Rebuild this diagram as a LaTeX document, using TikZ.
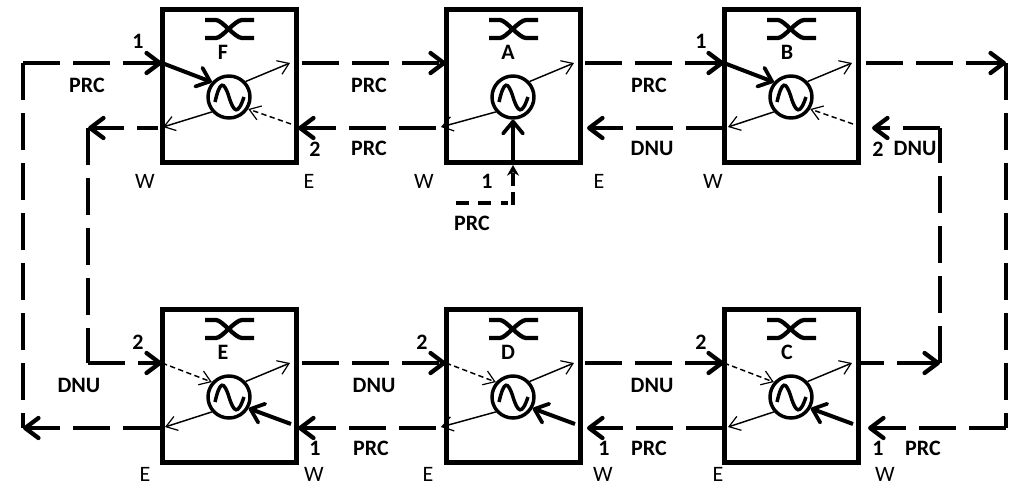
\documentclass[tikz,border=0pt]{standalone}
\usepackage{fontspec}
\setmainfont{Carlito}
\usetikzlibrary{arrows.meta}
\tikzset{
  netbox/.style={draw,line width=3.75pt,minimum width=100.5pt,minimum height=114.75pt,inner sep=0pt},
  clockcirc/.style={draw,circle,line width=2.6pt,minimum size=31.5pt,inner sep=0pt},
  txt/.style={inner sep=0.75pt,font=\fontsize{16.5pt}{18pt}\selectfont},
  btxt/.style={inner sep=0.75pt,font=\fontsize{16.5pt}{18pt}\selectfont\bfseries},
  plainlink/.style={line width=3.4pt,dash pattern=on 27.75pt off 9.75pt},
  link/.style={plainlink,-{Straight Barb[length=10pt,width=15pt,line width=3.2pt,round]}},
  thinarrow/.style={line width=1.1pt,-{Straight Barb[length=8pt,width=11pt,line width=0.9pt]}},
  thinback/.style={thinarrow,dash pattern=on 4pt off 2.5pt},
  thickarrow/.style={line width=3pt,-{Straight Barb[length=9pt,width=15pt,line width=2.8pt,round]}},
  coupler/.style={line width=3.2pt},
}
\begin{document}
\begin{tikzpicture}[x=0.75pt,y=0.75pt,yscale=-1,xscale=1]
\useasboundingbox (0,0) rectangle (1022,487);
% boxes
\foreach \nm/\cx/\cy/\lx/\tx/\ex/\wx in {F/229/86/223/69/73/158,A/513/86/508/74/72/436,B/791/86/787/81/75/723,E/229/386/223/69/73/160,D/513/386/508/74/72/436,C/791/386/787/77/70/723}{
  \node[netbox] (\nm) at (\cx,\cy) {};
  \node[clockcirc] (\nm-clk) at (\cx,\cy+11) {};
  \draw[shift={(\cx,\cy+11)},line width=2.6pt] (-14,5) .. controls (-9,-17) and (-5,-16) .. (0,0) .. controls (5,16) and (9,18) .. (15,0);
  \draw[coupler] (\cx-24,\cy-66) -- (\cx-13,\cy-66) .. controls (\cx-7,\cy-66) and (\cx+6,\cy-48) .. (\cx+13,\cy-48) -- (\cx+25,\cy-48);
  \draw[coupler] (\cx-24,\cy-48) -- (\cx-13,\cy-48) .. controls (\cx-7,\cy-48) and (\cx+6,\cy-66) .. (\cx+13,\cy-66) -- (\cx+25,\cy-66);
  \node[btxt] (\nm-lbl) at (\lx,\cy-34) {\nm};
  \coordinate (\nm-ne) at (\cx+61,\cy-23);
  \coordinate (\nm-nw) at (\cx-67,\cy-23);
  \coordinate (\nm-sw) at (\wx+5,\cy+41);
  \coordinate (\nm-se) at (\cx+62,\cy+38);
  \coordinate (\nm-out) at (\cx+\ex,\cy-23);
  \coordinate (\nm-back) at (\wx,\cy+42);
  \coordinate (\nm-tip) at (\cx+\tx,\cy+42);
  \draw[thinarrow] (\nm-clk.43) -- (\nm-ne);
  \draw[thinarrow] (\nm-clk.221) -- (\nm-sw);
}
% inputs inside the boxes
\draw[thickarrow] (F-nw) -- (F-clk.139);
\draw[thickarrow] (B-nw) -- (B-clk.139);
\draw[thinback] (F-se) -- (F-clk.-32);
\draw[thinback] (B-se) -- (B-clk.-32);
\draw[thinback] (E-nw) -- (E-clk.139);
\draw[thinback] (D-nw) -- (D-clk.139);
\draw[thinback] (C-nw) -- (C-clk.139);
\draw[thickarrow] (E-se) -- (E-clk.-30);
\draw[thickarrow] (D-se) -- (D-clk.-30);
\draw[thickarrow] (C-se) -- (C-clk.-30);
\draw[thickarrow] (A.south -| A-clk) -- (A-clk.south);
% corners of the rings
\coordinate (outTL) at (23,63);
\coordinate (outTR) at (1006,63);
\coordinate (outBL) at (23,428);
\coordinate (outBR) at (1006,428);
\coordinate (inTL) at (88,128);
\coordinate (inBL) at (88,363);
\coordinate (inTR) at (940,128);
\coordinate (inBR) at (940,363);
% top row
\draw[plainlink] (outTL) -- (outBL);
\draw[link] (outTL) -- (F-nw);
\draw[link] (F-out) -- (A-nw);
\draw[link] (A-out) -- (B-nw);
\draw[link] (B-out) -- (outTR);
\draw[plainlink] (outTR) -- (outBR);
\draw[link] (outBR) -- (C-tip);
\draw[link,dash phase=12pt] (F-back) -- (inTL);
\draw[link] (A-back) -- (F-tip);
\draw[link] (B-back) -- (A-tip);
\draw[plainlink] (inTL) -- (inBL);
\draw[link] (inBL) -- (E-nw);
% bottom row
\draw[link] (E-out) -- (D-nw);
\draw[link] (D-out) -- (C-nw);
\draw[link,dash phase=10.5pt] (C-out) -- (inBR);
\draw[plainlink] (inBR) -- (inTR);
\draw[link] (inTR) -- (B-tip);
\draw[link] (E-back) -- (outBL);
\draw[link] (D-back) -- (E-tip);
\draw[link] (C-back) -- (D-tip);
% feed into A
\coordinate (feedL) at (456,203);
\coordinate (feedM) at (508,203);
\coordinate (feedB) at (513,205);
\coordinate (feedT) at (513,165);
\draw[line width=3pt,dash pattern=on 9.75pt off 7pt] (feedL) -- (feedM);
\draw[line width=3pt,dash pattern=on 9.75pt off 4.5pt,-{Stealth[length=8pt,width=9pt]}] (feedB) -- (feedT);
% labels
\node[btxt] (prc1) at (87,85) {PRC};
\node[btxt] (prc2) at (369,85) {PRC};
\node[btxt] (prc3) at (649,85) {PRC};
\node[btxt] (prc4) at (369,148) {PRC};
\node[btxt] (dnu1) at (652,148) {DNU};
\node[btxt] (dnu2) at (915,148) {DNU};
\node[btxt] (prc5) at (472,223) {PRC};
\node[btxt] (dnu3) at (79,385) {DNU};
\node[btxt] (dnu4) at (374,385) {DNU};
\node[btxt] (dnu5) at (652,385) {DNU};
\node[btxt] (prc6) at (371,448) {PRC};
\node[btxt] (prc7) at (649,448) {PRC};
\node[btxt] (prc8) at (923,448) {PRC};
\node[btxt] (oneF) at (138,41) {1};
\node[btxt] (twoF) at (315,149) {2};
\node[btxt] (oneA) at (487,181) {1};
\node[btxt] (oneB) at (701,41) {1};
\node[btxt] (twoB) at (878,149) {2};
\node[btxt] (twoE) at (138,342) {2};
\node[btxt] (oneE) at (315,448) {1};
\node[btxt] (twoD) at (422,342) {2};
\node[btxt] (oneD) at (604,448) {1};
\node[btxt] (twoC) at (701,342) {2};
\node[btxt] (oneC) at (878,448) {1};
\node[txt] (wF) at (145,181) {W};
\node[txt] (eF) at (309,181) {E};
\node[txt] (wA) at (424,181) {W};
\node[txt] (eA) at (599,181) {E};
\node[txt] (wB) at (713,181) {W};
\node[txt] (eE) at (145,474) {E};
\node[txt] (wE) at (314,474) {W};
\node[txt] (eD) at (428,474) {E};
\node[txt] (wD) at (603,474) {W};
\node[txt] (eC) at (718,474) {E};
\node[txt] (wC) at (885,474) {W};
\end{tikzpicture}
\end{document}
